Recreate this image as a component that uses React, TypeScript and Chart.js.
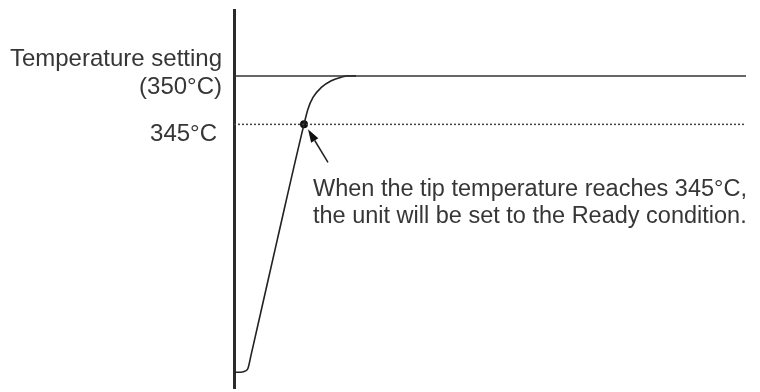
import React, { useEffect, useRef } from "react";
import { Chart, registerables } from "chart.js";

Chart.register(...registerables);

// Heating curve: time (arbitrary units) vs tip temperature (°C)
const TIME = [0, 0.7, 1.15, 1.4, 1.7, 4.33, 7.0, 7.4, 7.9, 8.73, 9.73, 10.73, 11.4, 12.2];
const TEMP = [319.43, 319.43, 319.56, 319.84, 321.17, 333.11, 345, 346.59, 347.78, 348.81, 349.5, 349.87, 350, 350];

const SET_TEMP = 350;
const READY_TEMP = 345;
const READY_TIME = 7.0;
const TIME_MIN = 0;
const TIME_MAX = 51.2;
const TEMP_MIN = 317.8;
const TEMP_MAX = 356.8;

const SETTING_LABEL = ["Temperature setting", "(350°C)"];
const READY_LABEL = "345°C";
const NOTE_LINES = [
  "When the tip temperature reaches 345°C,",
  "the unit will be set to the Ready condition.",
];

const FONT = '23.5px "Liberation Sans", Arial, Helvetica, sans-serif';
const LABEL_FONT = '24px "Liberation Sans", Arial, Helvetica, sans-serif';
const TEXT_COLOR = "#363636";

const annotationPlugin = {
  id: "annotations",
  afterDatasetsDraw(chart: any) {
    const { ctx, chartArea, scales } = chart;
    const x = scales.x;
    const y = scales.y;
    const ySet = y.getPixelForValue(SET_TEMP);
    const yReady = y.getPixelForValue(READY_TEMP);
    const px = x.getPixelForValue(READY_TIME);
    ctx.save();
    ctx.font = LABEL_FONT;
    ctx.fillStyle = TEXT_COLOR;
    ctx.textBaseline = "alphabetic";
    ctx.textAlign = "right";
    ctx.fillText(SETTING_LABEL[0], chartArea.left - 12, ySet - 10);
    ctx.fillText(SETTING_LABEL[1], chartArea.left - 12, ySet + 18.5);
    ctx.fillText(READY_LABEL, chartArea.left - 17, yReady + 17);
    ctx.font = FONT;
    ctx.textAlign = "left";
    ctx.fillText(NOTE_LINES[0], px + 9, yReady + 71.5);
    ctx.fillText(NOTE_LINES[1], px + 9, yReady + 99);

    // arrow
    const tipX = px + 4, tipY = yReady + 5;
    const tailX = px + 24, tailY = yReady + 38;
    const ang = Math.atan2(tipY - tailY, tipX - tailX);
    const headLen = 13, halfW = 4.2;
    const bx = tipX - headLen * Math.cos(ang);
    const by = tipY - headLen * Math.sin(ang);
    ctx.strokeStyle = "#222";
    ctx.lineWidth = 1.5;
    ctx.beginPath();
    ctx.moveTo(tailX, tailY);
    ctx.lineTo(bx, by);
    ctx.stroke();
    ctx.fillStyle = "#111";
    ctx.beginPath();
    ctx.moveTo(tipX, tipY);
    ctx.lineTo(bx + halfW * Math.sin(ang), by - halfW * Math.cos(ang));
    ctx.lineTo(bx - halfW * Math.sin(ang), by + halfW * Math.cos(ang));
    ctx.closePath();
    ctx.fill();
    ctx.restore();
  },
};

export default function App() {
  const ref = useRef<HTMLCanvasElement | null>(null);
  useEffect(() => {
    if (!ref.current) return;
    const curve = TIME.map((t, i) => ({ x: t, y: TEMP[i] }));
    const chart = new Chart(ref.current, {
      type: "line",
      data: {
        datasets: [
          {
            data: [{ x: TIME_MIN, y: SET_TEMP }, { x: TIME_MAX, y: SET_TEMP }],
            borderColor: "#333",
            borderWidth: 1.5,
            pointRadius: 0,
          },
          {
            data: [{ x: TIME_MIN, y: READY_TEMP }, { x: TIME_MAX, y: READY_TEMP }],
            borderColor: "#444",
            borderWidth: 1.5,
            borderDash: [2, 2],
            pointRadius: 0,
          },
          {
            data: curve,
            borderColor: "#222",
            borderWidth: 1.6,
            pointRadius: 0,
            cubicInterpolationMode: "monotone",
          },
          {
            data: [{ x: READY_TIME, y: READY_TEMP }],
            showLine: false,
            pointRadius: 4,
            pointBackgroundColor: "#111",
            pointBorderColor: "#111",
            borderWidth: 0,
          },
        ],
      } as any,
      options: {
        responsive: false,
        animation: false,
        events: [],
        layout: { padding: { left: 234, top: 10, right: 14, bottom: 0 } },
        plugins: { legend: { display: false }, tooltip: { enabled: false } },
        scales: {
          x: { type: "linear", min: TIME_MIN, max: TIME_MAX, display: false },
          y: {
            type: "linear",
            min: TEMP_MIN,
            max: TEMP_MAX,
            display: true,
            position: "left",
            ticks: { display: false },
            grid: { display: true, drawOnChartArea: false, drawTicks: false, tickLength: 0, color: "rgba(0,0,0,0)" },
            border: { display: true, color: "#2b2b2b", width: 3 },
          },
        },
      } as any,
      plugins: [annotationPlugin],
    });
    return () => chart.destroy();
  }, []);
  return (
    <div style={{ position: "absolute", left: 0, top: 0, width: 760, height: 392, background: "#fff" }}>
      <canvas ref={ref} width={760} height={392} />
    </div>
  );
}
